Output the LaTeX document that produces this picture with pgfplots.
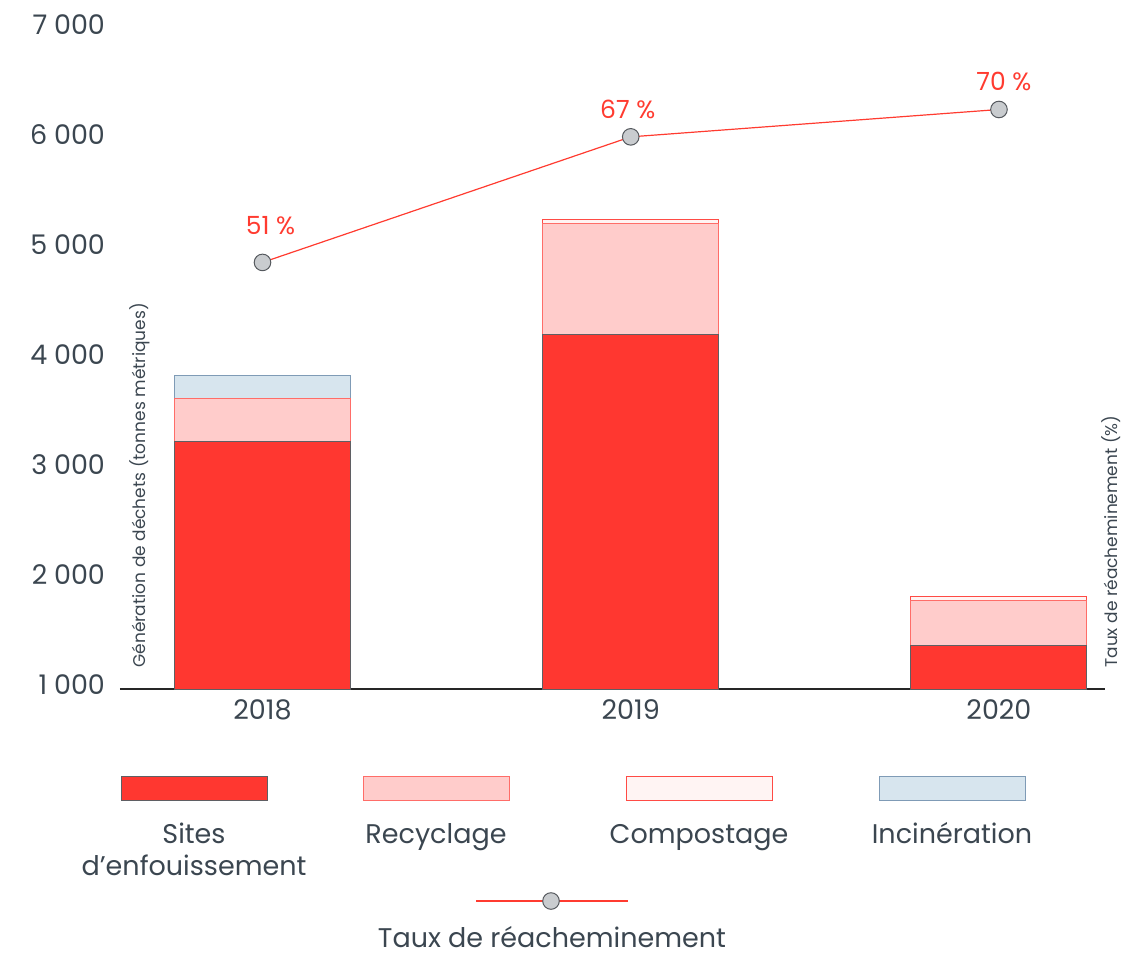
\documentclass[border=0pt]{standalone}
\usepackage{fontspec}
\setmainfont{Poppins}
\usepackage{pgfplots}
\pgfplotsset{compat=1.18}
\definecolor{txt}{HTML}{3B4650}
\definecolor{landfill}{HTML}{FF3730}
\definecolor{landedge}{HTML}{5F5F63}
\definecolor{recy}{HTML}{FFCCCB}
\definecolor{recyedge}{HTML}{FF6D68}
\definecolor{comp}{HTML}{FFF4F3}
\definecolor{compedge}{HTML}{FF4B45}
\definecolor{inci}{HTML}{D7E5EE}
\definecolor{inciedge}{HTML}{7F9BB6}
\definecolor{linered}{HTML}{FF3B30}
\definecolor{markfill}{HTML}{C9CCCF}
\definecolor{markedge}{HTML}{55595E}
\begin{document}
\begin{tikzpicture}
\path[use as bounding box] (-60pt,-133pt) rectangle (507pt,344.5pt);
\begin{axis}[
  at={(0,0)}, anchor=south west,
  scale only axis, width=492.5pt, height=330pt,
  xmin=-0.387, xmax=2.288, ymin=1000, ymax=7000,
  ybar stacked, bar width=88pt,
  separate axis lines,
  axis x line*=bottom, axis y line*=left,
  every outer x axis line/.append style={-},
  every outer y axis line/.append style={-},
  x axis line style={-, draw=black!85, line width=0.6pt},
  y axis line style={draw=none},
  tick style={draw=none},
  xtick={0,1,2}, xticklabels={2018,2019,2020},
  ytick={1000,2000,...,7000},
  /pgf/number format/.cd, 1000 sep={\hspace{0.25em}}, assume math mode=true, /pgfplots/.cd,
  tick label style={text=txt, font=\fontsize{13.5}{16}\selectfont},
  xticklabel style={yshift=-2pt},
  yticklabel style={anchor=east, xshift=-4pt, yshift=2pt},
]
\addplot[fill=landfill, draw=landedge, line width=0.5pt] coordinates {(0,3250) (1,4220) (2,1400)};
\addplot[fill=recy, draw=recyedge, line width=0.5pt] coordinates {(0,395) (1,1015) (2,405)};
\addplot[fill=comp, draw=compedge, line width=0.5pt] coordinates {(0,0) (1,32) (2,40)};
\addplot[fill=inci, draw=inciedge, line width=0.5pt] coordinates {(0,205)};
\end{axis}
\begin{axis}[
  at={(0,0)}, anchor=south west,
  scale only axis, width=492.5pt, height=330pt,
  xmin=-0.387, xmax=2.288, ymin=-2, ymax=80,
  hide axis, clip=false,
]
\addplot[linered, line width=0.6pt, mark=*, mark size=4.15pt,
  mark options={fill=markfill, draw=markedge, line width=0.5pt},
  nodes near coords={\pgfmathprintnumber[assume math mode=true]{\pgfplotspointmeta} \%},
  point meta=\thisrow{lab},
  visualization depends on={\thisrow{sh} \as \sh},
  visualization depends on={\thisrow{xs} \as \xs},
  nodes near coords style={text=linered, font=\fontsize{12.5}{14}\selectfont, anchor=center,
    yshift={\sh*0.5pt}, xshift={\xs*0.5pt}}]
  table {
  x y lab sh xs
  0 51 51 37 8
  1 66.6 67 27 -3
  2 70 70 28 5
  };
\end{axis}
\begin{scope}[shift={(-60pt,344.5pt)}, x=0.5pt, y=-0.5pt, every node/.style={text=txt, inner sep=0pt}]
  \node[rotate=90, anchor=base west, font=\fontsize{8.5}{10}\selectfont] at (146,668) {Génération de déchets (tonnes métriques)};
  \node[rotate=90, anchor=base west, font=\fontsize{8.5}{10}\selectfont] at (1117,668) {Taux de réacheminement (\%)};
  \draw[landedge, fill=landfill, line width=0.5pt] (121,776) rectangle (267,800);
  \draw[recyedge, fill=recy, line width=0.5pt] (363,776) rectangle (509,800);
  \draw[compedge, fill=comp, line width=0.5pt] (626,776) rectangle (772,800);
  \draw[inciedge, fill=inci, line width=0.5pt] (879,776) rectangle (1025,800);
  \begin{scope}[every node/.append style={font=\fontsize{13.5}{16}\selectfont, anchor=base}]
    \node at (194,843) {Sites};
    \node at (194,875) {d’enfouissement};
    \node at (436,843) {Recyclage};
    \node at (699,843) {Compostage};
    \node at (952,843) {Incinération};
    \node at (552,947) {Taux de réacheminement};
  \end{scope}
  \draw[linered, line width=0.6pt] (476,901) -- (628,901);
  \draw[markedge, fill=markfill, line width=0.5pt] (551,901) circle[radius=4.15pt];
\end{scope}
\end{tikzpicture}
\end{document}
